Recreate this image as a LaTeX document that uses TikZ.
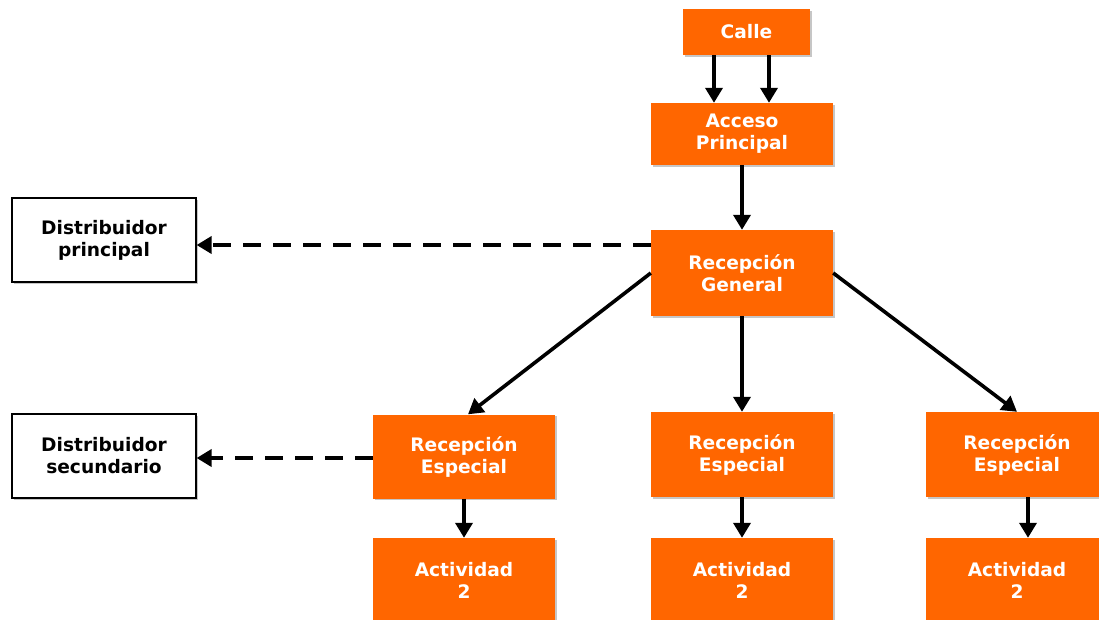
\documentclass[tikz,border=0pt]{standalone}
\usepackage{fontspec}
\setmainfont{DejaVu Sans}
\usetikzlibrary{arrows.meta,shadows}
\definecolor{org}{HTML}{FF6600}
\begin{document}
\begin{tikzpicture}[x=1pt,y=-1pt,
  box/.style={rectangle, inner sep=0pt, align=center,
    font=\bfseries\fontsize{18.6}{22}\selectfont,
    drop shadow={shadow xshift=1.5pt, shadow yshift=-1.5pt, fill=gray!45, opacity=1}},
  obox/.style={box, fill=org, text=white},
  wbox/.style={box, draw=black, line width=1.2pt, fill=white, text=black},
  arr/.style={line width=3.6pt, -{Triangle[length=15pt,width=17pt]}},
  darr/.style={arr, dash pattern=on 18pt off 12pt}]
\useasboundingbox (0,0) rectangle (1099,619);
\fill[white] (0,0) rectangle (1099,619);

\node[obox, minimum width=127pt, minimum height=46pt] (calle) at (746.5,32) {Calle};
\node[obox, minimum width=182pt, minimum height=62pt] (acc) at (742,134) {Acceso\\Principal};
\node[obox, minimum width=182pt, minimum height=86pt] (rg) at (742,273) {Recepción\\General};
\node[wbox, minimum width=184pt, minimum height=84pt] (dp) at (104,240) {Distribuidor\\principal};
\node[wbox, minimum width=184pt, minimum height=84pt] (ds) at (104,456) {Distribuidor\\secundario};
\node[obox, minimum width=182pt, minimum height=84pt] (reL) at (464,456.5) {Recepción\\Especial};
\node[obox, minimum width=182pt, minimum height=85pt] (reM) at (742,454.5) {Recepción\\Especial};
\node[obox, minimum width=182pt, minimum height=85pt] (reR) at (1017,454.5) {Recepción\\Especial};
\node[obox, minimum width=182pt, minimum height=84pt] (aL) at (464,580) {Actividad\\2};
\node[obox, minimum width=182pt, minimum height=84pt] (aM) at (742,580) {Actividad\\2};
\node[obox, minimum width=182pt, minimum height=84pt] (aR) at (1017,580) {Actividad\\2};

\coordinate (c1) at ([xshift=-32.5pt]calle.south);
\coordinate (c2) at ([xshift=22.5pt]calle.south);
\draw[arr] (c1) -- (c1 |- acc.north);
\draw[arr] (c2) -- (c2 |- acc.north);
\draw[arr] (acc.south) -- (rg.north);
\draw[arr] (rg.south) -- (reM.north);
\draw[arr] (rg.west) -- ([xshift=4pt]reL.north);
\draw[arr] (rg.east) -- (reR.north);
\draw[arr] (reL.south) -- (aL.north);
\draw[arr] (reM.south) -- (aM.north);
\coordinate (r1) at ([xshift=11pt]reR.south);
\draw[arr] (r1) -- (r1 |- aR.north);
\coordinate (d1) at ([yshift=28pt]rg.west);
\draw[darr] (d1) -- (d1 -| dp.east);
\coordinate (d2) at ([yshift=-1.5pt]reL.west);
\draw[darr] (d2) -- (d2 -| ds.east);
\end{tikzpicture}
\end{document}
